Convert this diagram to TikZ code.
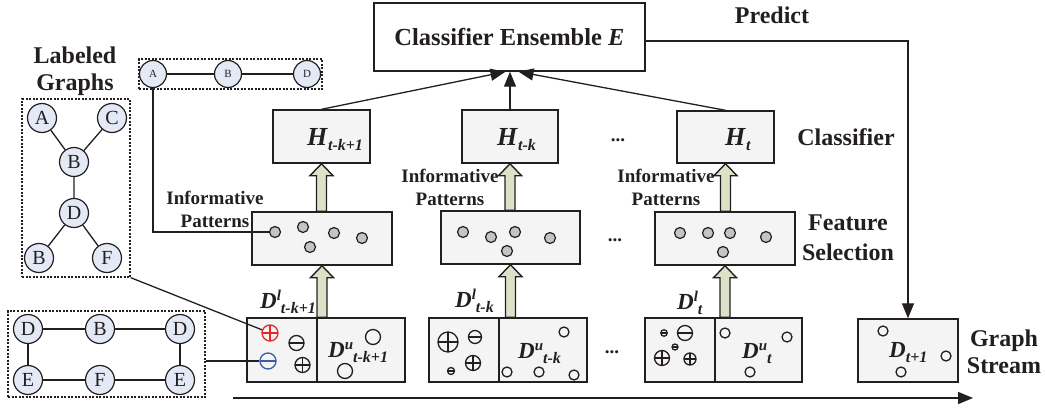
\documentclass[tikz,border=0pt]{standalone}
\usepackage{fontspec}
\setmainfont{Liberation Serif}
\usetikzlibrary{arrows.meta,calc}

\definecolor{ink}{HTML}{231F20}
\definecolor{boxgray}{HTML}{F4F4F4}
\definecolor{nodeblue}{HTML}{E3E9F5}
\definecolor{dotgray}{HTML}{C4C4C4}
\definecolor{arrowfill}{HTML}{DCE2C8}
\definecolor{signred}{HTML}{E8262A}
\definecolor{signblue}{HTML}{3A5BAA}

\newcommand\bi[1]{\textbf{\textit{#1}}}
% symbol with a raised and a lowered index, set one after the other
\newcommand\suplow[3]{\bi{#1}\raisebox{8pt}{\fontsize{15}{15}\selectfont\bi{#2}}\raisebox{-5pt}{\fontsize{16}{16}\selectfont\bi{#3}}}
\newcommand\lowonly[2]{\bi{#1}\raisebox{-5pt}{\fontsize{16}{16}\selectfont\bi{#2}}}
% block arrow from a box edge (#1) up to the tip (#2)
\newcommand\fatarrow[2]{%
  \draw[ink, line width=1.4pt, fill=arrowfill, line join=miter]
    ($(#1)+(-5,0)$) -- ($(#2)+(-5,12)$) -- ($(#2)+(-11.5,12)$) -- (#2)
    -- ($(#2)+(11.5,12)$) -- ($(#2)+(5,12)$) -- ($(#1)+(5,0)$) -- cycle;}

\tikzset{
  box/.style={draw=ink, line width=1.4pt, fill=boxgray, inner sep=0pt},
  gnode/.style={circle, draw=ink, line width=1.2pt, fill=nodeblue, minimum size=29pt,
    inner sep=0pt, text=ink, font=\fontsize{20}{20}\selectfont},
  tnode/.style={gnode, minimum size=27pt, font=\fontsize{11}{11}\selectfont},
  gdot/.style={circle, draw=ink, line width=1.2pt, fill=dotgray, minimum size=11pt, inner sep=0pt},
  ring/.style={circle, draw=ink, line width=1.3pt, minimum size=#1, inner sep=0pt},
  ring/.default=10pt,
  plussign/.style={circle, draw, line width=1.3pt, minimum size=#1, inner sep=0pt,
    path picture={\draw[line width=1.3pt]
      (path picture bounding box.north) -- (path picture bounding box.south)
      (path picture bounding box.west) -- (path picture bounding box.east);}},
  minussign/.style={circle, draw, line width=1.3pt, minimum size=#1, inner sep=0pt,
    path picture={\draw[line width=1.3pt]
      (path picture bounding box.west) -- (path picture bounding box.east);}},
  frame/.style={draw=ink, line width=1.3pt, dash pattern=on 2pt off 1.5pt, inner sep=0pt},
  link/.style={draw=ink, line width=1.3pt},
  arr/.style={link, -{Triangle[length=15pt,width=12pt]}},
  biglabel/.style={font=\fontsize{24}{28}\selectfont\bfseries, align=center, text=ink},
  smalllabel/.style={font=\fontsize{19}{23}\selectfont\bfseries, align=center, text=ink},
  idx/.style={anchor=base west, inner sep=0pt, text=ink, font=\fontsize{23}{23}\selectfont},
  hidx/.style={anchor=base west, inner sep=0pt, text=ink, font=\fontsize{26}{26}\selectfont},
  dots/.style={font=\fontsize{19}{19}\selectfont\bfseries, text=ink},
}

\begin{document}
\begin{tikzpicture}[x=1pt, y=-1pt]
\useasboundingbox (0,0) rectangle (1045,410);

% ---------- ensemble and classifiers ----------
\node[box, fill=white, minimum width=271pt, minimum height=68pt,
  font=\fontsize{24.5}{24.5}\selectfont\bfseries, text=ink] (E) at (509.5,37)
  {Classifier Ensemble \textit{E}};

\node[box, minimum width=97pt, minimum height=53pt] (H1) at (321.5,136.5) {};
\node[box, minimum width=96pt, minimum height=53pt] (H2) at (510,136.5) {};
\node[box, minimum width=97pt, minimum height=52pt] (H3) at (725.5,137) {};
\node[hidx] (H1t) at (307,145) {\lowonly{H}{t-k+1}};
\node[hidx] (H2t) at (497,145) {\lowonly{H}{t-k}};
\node[hidx] (H3t) at (725,145) {\lowonly{H}{t}};

\draw[arr] (H1.north) -- ([xshift=-4pt]E.south);
\draw[arr] (H2.north) -- (H2.north |- E.south);
\draw[arr] (H3.north) -- ([xshift=9pt]E.south);

% ---------- feature selection ----------
\node[box, minimum width=140pt, minimum height=53pt] (F1) at (322,238.5) {};
\node[box, minimum width=139pt, minimum height=53pt] (F2) at (510.5,237.5) {};
\node[box, minimum width=140pt, minimum height=53pt] (F3) at (725,238.5) {};

\node[gdot] (p11) at (275,232) {};
\node[gdot] (p12) at (303,227) {};
\node[gdot] (p13) at (334,233) {};
\node[gdot] (p14) at (362,238) {};
\node[gdot] (p15) at (310,247) {};
\node[gdot] (p21) at (463,232) {};
\node[gdot] (p22) at (491,237) {};
\node[gdot] (p23) at (515,232) {};
\node[gdot] (p24) at (550,238) {};
\node[gdot] (p25) at (507,251) {};
\node[gdot] (p31) at (680,233) {};
\node[gdot] (p32) at (708,233) {};
\node[gdot] (p33) at (730,233) {};
\node[gdot] (p34) at (766,237) {};
\node[gdot] (p35) at (723,252) {};

\fatarrow{H1.south |- F1.north}{H1.south}
\fatarrow{H2.south |- F2.north}{H2.south}
\fatarrow{H3.south |- F3.north}{H3.south}

\node[smalllabel] (ip1) at (215,209) {Informative\\Patterns};
\node[smalllabel] (ip2) at (450,187) {Informative\\Patterns};
\node[smalllabel] (ip3) at (666,187) {Informative\\Patterns};

% ---------- labelled data and unlabelled data ----------
\node[box, minimum width=70pt, minimum height=64pt] (D1l) at (282,350) {};
\node[box, minimum width=88pt, minimum height=64pt] (D1u) at (361,350) {};
\node[box, minimum width=70pt, minimum height=64pt] (D2l) at (464,350) {};
\node[box, minimum width=88pt, minimum height=64pt] (D2u) at (543,350) {};
\node[box, minimum width=70pt, minimum height=64pt] (D3l) at (680,350) {};
\node[box, minimum width=87pt, minimum height=64pt] (D3u) at (758.5,350) {};

\fatarrow{F1.south |- D1l.north}{F1.south}
\fatarrow{F2.south |- D2l.north}{F2.south}
\fatarrow{F3.south |- D3l.north}{F3.south}

\node[idx] (D1lt) at (260,308) {\suplow{D}{l}{t-k+1}};
\node[idx] (D2lt) at (455,307) {\suplow{D}{l}{t-k}};
\node[idx] (D3lt) at (677,309) {\suplow{D}{l}{t}};
\node[idx] (D1ut) at (328,357) {\suplow{D}{u}{t-k+1}};
\node[idx] (D2ut) at (518,358) {\suplow{D}{u}{t-k}};
\node[idx] (D3ut) at (742,358) {\suplow{D}{u}{t}};

% signs in the labelled parts
\node[plussign=16pt, color=signred] (rp) at (270,333) {};
\node[minussign=16pt, color=signblue] (bm) at (268,361) {};
\node[minussign=15pt, color=ink] (m11) at (296.5,343) {};
\node[plussign=15pt, color=ink] (p11s) at (302.5,365) {};

\node[plussign=20pt, color=ink] (p21s) at (448,342) {};
\node[minussign=13pt, color=ink] (m21) at (475,337) {};
\node[plussign=15pt, color=ink] (p22s) at (473,363) {};
\node[minussign=7pt, color=ink] (m22) at (451,371) {};

\node[minussign=6.5pt, color=ink] (m31) at (664,333) {};
\node[minussign=15pt, color=ink] (m32) at (685,333) {};
\node[minussign=6pt, color=ink] (m33) at (675,347) {};
\node[plussign=15pt, color=ink] (p31s) at (662,358) {};
\node[plussign=12pt, color=ink] (p32s) at (690,359) {};

% unlabelled graphs
\node[ring=15pt] (u11) at (373,337) {};
\node[ring=15pt] (u12) at (345,371) {};
\node[ring] (u21) at (564,332) {};
\node[ring] (u22) at (507,372) {};
\node[ring] (u23) at (539,372) {};
\node[ring] (u24) at (574,375) {};
\node[ring] (u31) at (725,333) {};
\node[ring] (u32) at (787,337) {};
\node[ring] (u33) at (750,372) {};

% ---------- next chunk ----------
\node[box, minimum width=100pt, minimum height=63pt] (Dt) at (908,350.5) {};
\node[idx] (Dtt) at (889,357) {\lowonly{D}{t+1}};
\node[ring] (v1) at (883,331) {};
\node[ring] (v2) at (946,356) {};
\node[ring] (v3) at (901,372) {};

\draw[arr] ([yshift=-4pt]E.east) -| (Dt.north);
\node[biglabel] (pred) at (772,15) {Predict};

% ---------- side labels ----------
\node[biglabel] (clab) at (846,137) {Classifier};
\node[biglabel, font=\fontsize{24}{30}\selectfont\bfseries] (flab) at (848,238) {Feature\\Selection};
\node[biglabel, font=\fontsize{24}{27}\selectfont\bfseries] (glab) at (1004,352) {Graph\\Stream};
\node[biglabel, font=\fontsize{24}{27}\selectfont\bfseries] (llab) at (75,71) {Labeled\\Graphs};

\node[dots] (dt1) at (618,140) {...};
\node[dots] (dt2) at (615,240) {...};
\node[dots] (dt3) at (612,352) {...};

% ---------- time axis ----------
\coordinate (ax0) at (233,398);
\coordinate (ax1) at (973,398);
\draw[arr, line width=1.5pt] (ax0) -- (ax1);

% ---------- pattern A-B-D ----------
\node[frame, minimum width=183pt, minimum height=30pt] (pf) at (230.5,74) {};
\node[tnode] (pA) at (153,74) {A};
\node[tnode] (pB) at (228,74) {B};
\node[tnode] (pD) at (307,74) {D};
\draw[link] (pA) -- (pB) -- (pD);
\draw[link] (pA.south) |- (p11.west);

% ---------- labelled tree graph ----------
\node[frame, minimum width=108pt, minimum height=178pt] (lg) at (76,188) {};
\node[gnode] (ga) at (42,118) {A};
\node[gnode] (gc) at (112,118) {C};
\node[gnode] (gb) at (74,162) {B};
\node[gnode] (gd) at (74,213) {D};
\node[gnode] (gb2) at (39,258) {B};
\node[gnode] (gf) at (107,258) {F};
\draw[link] (ga) -- (gb) (gc) -- (gb) (gb) -- (gd) (gd) -- (gb2) (gd) -- (gf);
\draw[link] (lg.south east) -- (rp);

% ---------- labelled cycle graph ----------
\node[frame, minimum width=197pt, minimum height=86pt] (bg) at (106.5,354) {};
\node[gnode] (hd1) at (28,329) {D};
\node[gnode] (hb) at (100,329) {B};
\node[gnode] (hd2) at (180,329) {D};
\node[gnode] (he1) at (28,380) {E};
\node[gnode] (hf) at (100,380) {F};
\node[gnode] (he2) at (180,380) {E};
\draw[link] (hd1) -- (hb) -- (hd2) -- (he2) -- (hf) -- (he1) -- (hd1);
\draw[link] (bg.east |- bm) -- (bm);

\end{tikzpicture}
\end{document}
